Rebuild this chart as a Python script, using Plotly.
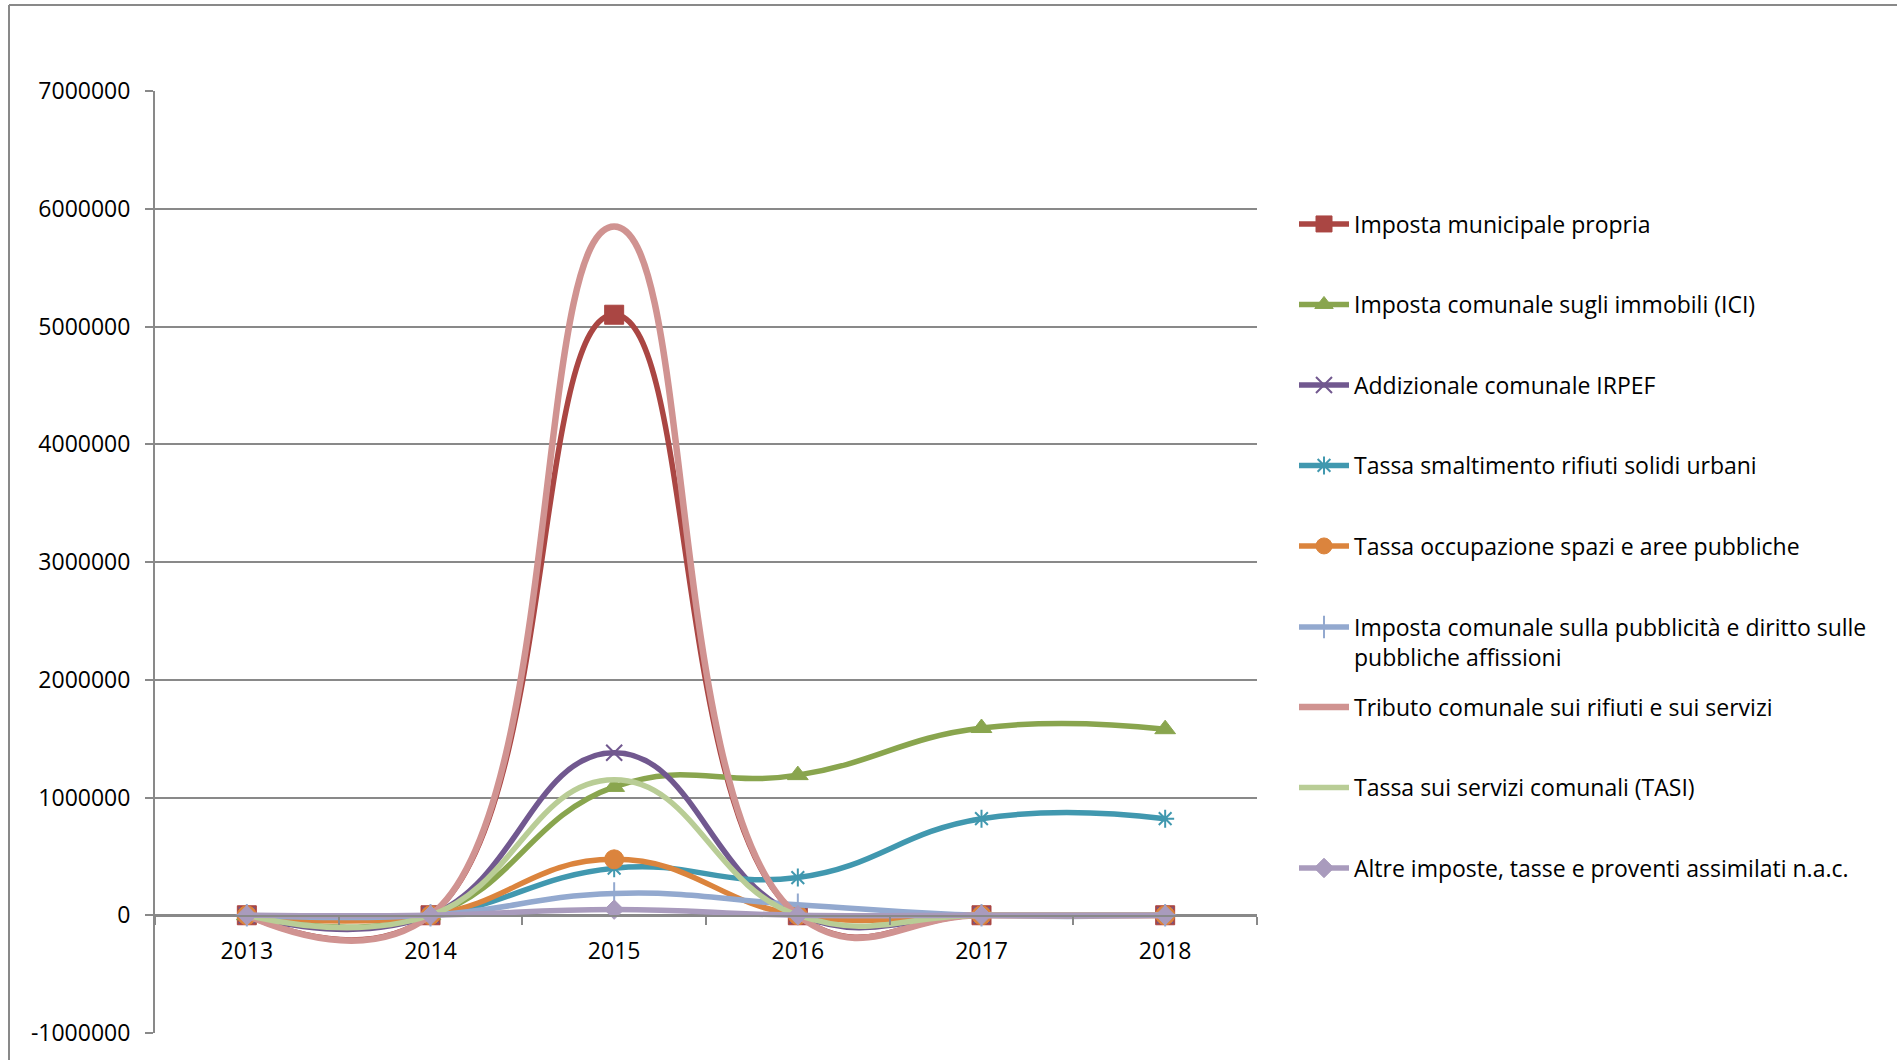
import plotly.graph_objects as go

# --- data -------------------------------------------------------------
anni = ["2013", "2014", "2015", "2016", "2017", "2018"]

imposta_municipale = [0, 0, 5100000, 0, 0, 0]
ici = [0, 0, 1090000, 1190000, 1590000, 1580000]
addizionale_irpef = [0, 0, 1380000, 0, 0, 0]
rifiuti_solidi_urbani = [0, 0, 400000, 320000, 820000, 820000]
occupazione_spazi = [0, 0, 475000, 0, 0, 0]
pubblicita_affissioni = [0, 0, 185000, 90000, 0, 0]
tributo_rifiuti_servizi = [0, 0, 5850000, 0, 0, 0]
tasi = [0, 0, 1150000, 0, 0, 0]
altre_imposte = [0, 0, 48000, 0, 0, 0]

nomi = [
    "Imposta municipale propria",
    "Imposta comunale sugli immobili (ICI)",
    "Addizionale comunale IRPEF",
    "Tassa smaltimento rifiuti solidi urbani",
    "Tassa occupazione spazi e aree pubbliche",
    "Imposta comunale sulla pubblicità e diritto sulle<br>pubbliche affissioni",
    "Tributo comunale sui rifiuti e sui servizi",
    "Tassa sui servizi comunali (TASI)",
    "Altre imposte, tasse e proventi assimilati n.a.c.",
]

y_ticks = [-1000000, 0, 1000000, 2000000, 3000000, 4000000, 5000000, 6000000, 7000000]
y_tick_labels = ["-1000000", "0", "1000000", "2000000", "3000000",
                 "4000000", "5000000", "6000000", "7000000"]

# --- page geometry ----------------------------------------------------
W, H = 1897, 1060
ML, MR, MT, MB = 155, 640, 91, 27
PW, PH = W - ML - MR, H - MT - MB

def px_x(px):
    return (px - ML) / PW

def px_y(py):
    return (H - MB - py) / PH

FONT = "Open Sans"
GRID = "#898989"

# colour, marker symbol, marker size, open symbol?, line width
stili = [
    ("#AA4643", "square", 19, False, 5.5),
    ("#89A54E", "triangle-up", 18, False, 5.5),
    ("#71588F", "x-thin-open", 16, True, 5.5),
    ("#4198AF", "asterisk-open", 15, True, 5.5),
    ("#DB843D", "circle", 19, False, 5.5),
    ("#93A9CF", "cross-thin-open", 16, True, 5.5),
    ("#D09391", None, 0, False, 6.5),
    ("#B9CD96", None, 0, False, 5.5),
    ("#A99BBD", "diamond", 15, False, 5.5),
]
serie = [imposta_municipale, ici, addizionale_irpef, rifiuti_solidi_urbani,
         occupazione_spazi, pubblicita_affissioni, tributo_rifiuti_servizi,
         tasi, altre_imposte]

fig = go.Figure()
legend_ids = ["legend"] + [f"legend{i}" for i in range(2, 10)]

for i, (nome, valori, (col, sym, size, aperto, lw)) in enumerate(zip(nomi, serie, stili)):
    if sym is None:
        mode = "lines"
        marker = None
    else:
        mode = "lines+markers"
        marker = dict(symbol=sym, size=size, color=col,
                      line=dict(color=col, width=2 if aperto else 1))
    fig.add_trace(go.Scatter(
        x=anni, y=valori, name=nome, mode=mode,
        line=dict(color=col, width=lw, shape="spline", smoothing=1.3),
        marker=marker, legend=legend_ids[i],
    ))

# one legend box per entry so that entries sit on an even pitch
legend_rows = [224, 304.5, 385, 465.5, 546, 642, 707, 787.5, 868]
layout_legends = {}
for i, (lid, row) in enumerate(zip(legend_ids, legend_rows)):
    layout_legends[lid] = dict(
        x=px_x(1294), y=px_y(row), xanchor="left", yanchor="middle",
        bgcolor="rgba(0,0,0,0)", borderwidth=0,
        font=dict(family=FONT, size=23, color="black"),
        itemwidth=50, valign="top",
    )

fig.update_layout(
    width=W, height=H,
    margin=dict(l=ML, r=MR, t=MT, b=MB, pad=0),
    paper_bgcolor="white", plot_bgcolor="white",
    font=dict(family=FONT, size=23, color="black"),
    showlegend=True,
    **layout_legends,
    xaxis=dict(
        type="category", range=[-0.5, 5.5], tickson="boundaries",
        ticks="outside", ticklen=8, tickwidth=2, tickcolor=GRID,
        showline=True, linecolor=GRID, linewidth=2,
        showgrid=False, zeroline=False,
        anchor="free", position=px_y(916),
        tickfont=dict(family=FONT, size=23, color="black"),
        ticklabelstandoff=14,
    ),
    yaxis=dict(
        range=[-1000000, 7000000], tickmode="array",
        tickvals=y_ticks, ticktext=y_tick_labels,
        ticks="outside", ticklen=8, tickwidth=2, tickcolor=GRID,
        showline=True, linecolor=GRID, linewidth=2,
        showgrid=True, gridcolor=GRID, gridwidth=2, zeroline=False,
        tickfont=dict(family=FONT, size=23, color="black"),
        ticklabelstandoff=10,
    ),
    shapes=[
        dict(type="line", xref="paper", yref="paper",
             x0=px_x(9), x1=px_x(W + 10), y0=px_y(5), y1=px_y(5),
             line=dict(color=GRID, width=2)),
        dict(type="line", xref="paper", yref="paper",
             x0=px_x(9), x1=px_x(9), y0=px_y(5), y1=px_y(H + 10),
             line=dict(color=GRID, width=2)),
    ],
)

fig.write_html("out.html")
